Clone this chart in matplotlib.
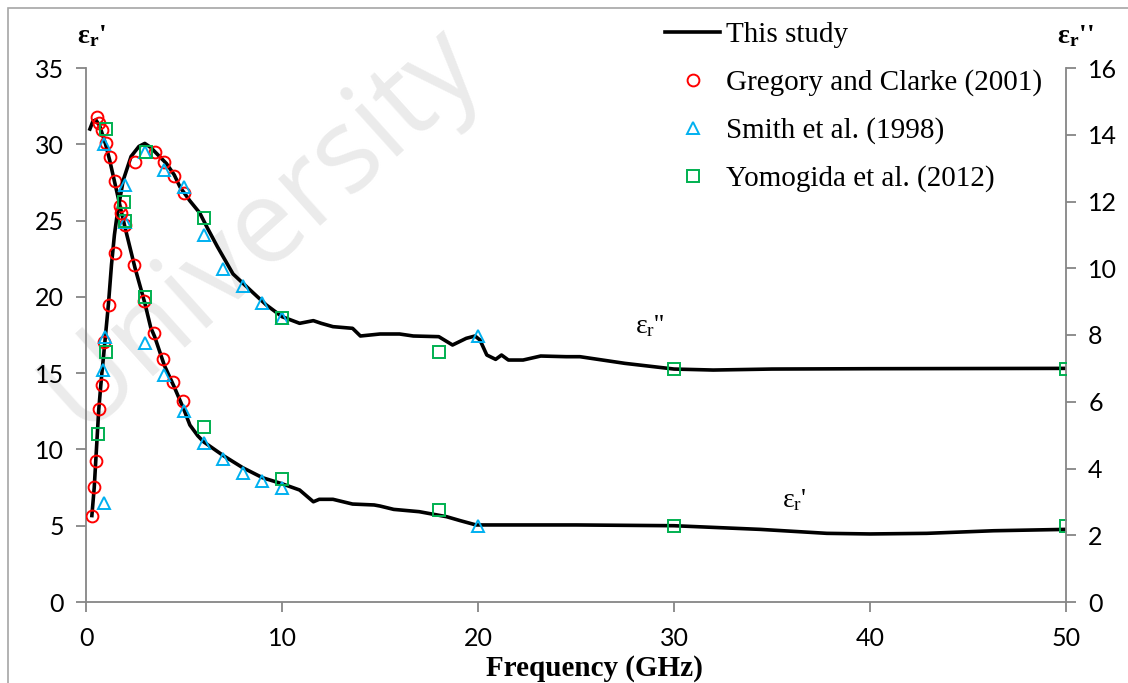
import matplotlib
matplotlib.use('Agg')
import matplotlib.pyplot as plt
from matplotlib.patches import Rectangle
from matplotlib.lines import Line2D

plt.rcParams['mathtext.fontset'] = 'custom'
plt.rcParams['mathtext.rm'] = 'Liberation Serif'
plt.rcParams['mathtext.it'] = 'Liberation Serif:italic'
plt.rcParams['mathtext.bf'] = 'Liberation Serif:bold'

# This study - real part (left axis)
f_real = [0.2, 0.35, 0.5, 0.7, 1.0, 1.2, 1.5, 1.8, 2.0, 2.5, 3.0, 3.3, 3.5, 4.0, 4.5, 5.0, 5.3,
          5.7, 6.0, 7.0, 8.0, 9.0, 10.0, 10.9, 11.6, 11.9, 12.6, 13.6, 14.7, 15.0, 15.7, 17.0,
          18.4, 19.1, 19.9, 25.0, 30.0, 34.4, 37.8, 40.0, 42.9, 46.3, 50.0]
e_real = [31.0, 31.5, 31.6, 31.2, 30.0, 29.0, 27.3, 25.6, 24.5, 21.9, 19.6, 18.0, 17.4, 15.5, 14.1,
          12.6, 11.6, 10.9, 10.5, 9.6, 8.8, 8.15, 7.75, 7.34, 6.57, 6.73, 6.73, 6.42, 6.36, 6.29,
          6.07, 5.92, 5.59, 5.33, 5.05, 5.05, 5.0, 4.76, 4.5, 4.46, 4.5, 4.67, 4.76]

# This study - imaginary part (right axis)
f_imag = [0.3, 0.42, 0.5, 0.65, 0.8, 0.9, 1.15, 1.3, 1.45, 1.6, 1.9, 2.3, 2.7, 3.0, 3.3, 3.6, 4.1,
          4.5, 4.8, 5.3, 5.8, 6.2, 6.7, 7.5, 8.5, 9.2, 10.0, 10.9, 11.6, 12.0, 12.6, 13.6, 14.0,
          15.0, 16.0, 16.7, 18.0, 18.7, 19.4, 19.85, 20.1, 20.45, 20.9, 21.2, 21.55, 22.3, 23.2,
          24.5, 25.2, 27.5, 30.0, 32.0, 35.0, 40.0, 50.0]
e_imag = [2.59, 3.43, 4.25, 5.76, 6.8, 7.4, 8.96, 10.1, 11.0, 11.65, 12.64, 13.35, 13.65, 13.74,
          13.62, 13.44, 13.14, 12.8, 12.43, 12.02, 11.66, 11.2, 10.65, 9.83, 9.28, 8.9, 8.55, 8.35,
          8.43, 8.35, 8.25, 8.2, 7.97, 8.03, 8.03, 7.97, 7.95, 7.7, 7.9, 7.97, 7.85, 7.4, 7.27,
          7.4, 7.25, 7.25, 7.37, 7.35, 7.35, 7.15, 6.98, 6.95, 6.98, 6.99, 7.0]

# Gregory and Clarke (2001)
greg_f_real = [0.55, 0.65, 0.8, 1.0, 1.2, 1.5, 1.73, 1.99, 2.46, 2.96, 3.47, 3.94, 4.45, 4.96]
greg_real = [31.76, 31.37, 30.93, 30.06, 29.18, 27.6, 25.95, 24.7, 22.1, 19.7, 17.6, 15.9, 14.4, 13.2]
greg_f_imag = [0.31, 0.42, 0.49, 0.66, 0.8, 0.92, 1.19, 1.48, 1.79, 2.5, 3.5, 4.0, 4.49, 4.98]
greg_imag = [2.59, 3.44, 4.23, 5.78, 6.49, 7.8, 8.91, 10.47, 11.66, 13.17, 13.49, 13.19, 12.75, 12.25]

# Smith et al. (1998)
smith_f_real = [0.93, 2, 3, 4, 5, 6, 7, 8, 9, 10, 20]
smith_real = [30.0, 24.9, 16.95, 14.9, 12.5, 10.4, 9.4, 8.47, 7.95, 7.45, 4.98]
smith_f_imag = [0.92, 0.85, 0.97, 2, 3, 4, 5, 6, 7, 8, 9, 10, 20]
smith_imag = [2.97, 6.95, 7.95, 12.48, 13.49, 12.94, 12.43, 10.99, 9.97, 9.46, 8.96, 8.5, 7.97]

# Yomogida et al. (2012)
yomo_f_real = [1, 2, 3, 6, 10, 18, 30, 50]
yomo_real = [30.97, 25.0, 20.0, 11.5, 8.04, 6.03, 5.0, 4.98]
yomo_f_imag = [0.6, 1, 1.95, 3.04, 6, 10, 18, 30, 50]
yomo_imag = [5.03, 7.5, 11.98, 13.49, 11.5, 8.5, 7.48, 6.99, 6.99]

x_ticks = [0, 10, 20, 30, 40, 50]
left_ticks = [0, 5, 10, 15, 20, 25, 30, 35]
right_ticks = [0, 2, 4, 6, 8, 10, 12, 14, 16]

serif = 'Liberation Serif'
tickfont = 'Lato'
grey = '#868686'
red = '#ff0000'
blue = '#00b0f0'
green = '#00b050'

W, H = 1128, 683
fig = plt.figure(figsize=(W / 100, H / 100), dpi=100)

# outer chart border and watermark
fig.patches.append(Rectangle((8 / W, -0.1), 1.2, 1.1 - 8 / H, transform=fig.transFigure,
                             fill=False, edgecolor='#a6a6a6', lw=1.2, zorder=-5))
fig.text(262 / W, 1 - 228 / H, 'University', rotation=42, fontsize=84, color='#ebebeb',
         family='Open Sans', ha='center', va='center', zorder=-4)

ax = fig.add_axes([86 / W, 81 / H, 980 / W, 534 / H])
ax.patch.set_alpha(0)
ax2 = ax.twinx()

mk = dict(linestyle='none', mfc='none', ms=8.5, mew=1.4)

ax.plot(f_real, e_real, color='black', lw=2.6, zorder=2)
ax.plot(greg_f_real, greg_real, marker='o', mec=red, zorder=3, **mk)
ax.plot(smith_f_real, smith_real, marker='^', mec=blue, zorder=3, **mk)
ax.plot(yomo_f_real, yomo_real, marker='s', mec=green, zorder=3, **mk)

ax2.plot(f_imag, e_imag, color='black', lw=2.6, zorder=2)
ax2.plot(greg_f_imag, greg_imag, marker='o', mec=red, zorder=3, **mk)
ax2.plot(smith_f_imag, smith_imag, marker='^', mec=blue, zorder=3, **mk)
ax2.plot(yomo_f_imag, yomo_imag, marker='s', mec=green, zorder=3, **mk)

ax.set_xlim(0, 50)
ax.set_ylim(0, 35)
ax2.set_ylim(0, 16)
ax.set_xticks(x_ticks)
ax.set_yticks(left_ticks)
ax2.set_yticks(right_ticks)

for a in (ax, ax2):
    for s in a.spines.values():
        s.set_visible(False)
    a.tick_params(direction='out', color=grey, length=7, width=1.3, labelsize=18, pad=9)
    for lab in a.get_xticklabels() + a.get_yticklabels():
        lab.set_family(tickfont)
ax.tick_params(axis='x', pad=11)
for side in ('left', 'bottom'):
    ax.spines[side].set_visible(True)
    ax.spines[side].set_color(grey)
    ax.spines[side].set_linewidth(1.3)
ax2.spines['right'].set_visible(True)
ax2.spines['right'].set_color(grey)
ax2.spines['right'].set_linewidth(1.3)

# curve labels
ax.text(35.5, 6.2, r"$\mathregular{ε_r}$'", family=serif, fontsize=20, ha='left', va='baseline')
ax.text(28.0, 17.6, r"$\mathregular{ε_r}$''", family=serif, fontsize=20, ha='left', va='baseline')

# axis titles
fig.text(77 / W, 1 - 43 / H, r"$\mathbf{ε_r}$'", family=serif, fontsize=20, weight='bold',
         ha='left', va='baseline')
fig.text(1057 / W, 1 - 43 / H, r"$\mathbf{ε_r}$''", family=serif, fontsize=20, weight='bold',
         ha='left', va='baseline')
fig.text(594 / W, 1 - 676 / H, 'Frequency (GHz)', family=serif, fontsize=21, weight='bold',
         ha='center', va='baseline')

handles = [
    Line2D([], [], color='black', lw=2.6),
    Line2D([], [], marker='o', mec=red, **mk),
    Line2D([], [], marker='^', mec=blue, **mk),
    Line2D([], [], marker='s', mec=green, **mk),
]
labels = ['This study', 'Gregory and Clarke (2001)', 'Smith et al. (1998)', 'Yomogida et al. (2012)']
fig.legend(handles, labels, loc='upper left', bbox_to_anchor=(665 / W, 1 - 22 / H),
           frameon=False, prop={'family': serif, 'size': 21}, handlelength=1.9,
           handletextpad=0.2, labelspacing=0.72, borderpad=0, borderaxespad=0)

fig.savefig('out.png', dpi=100)
